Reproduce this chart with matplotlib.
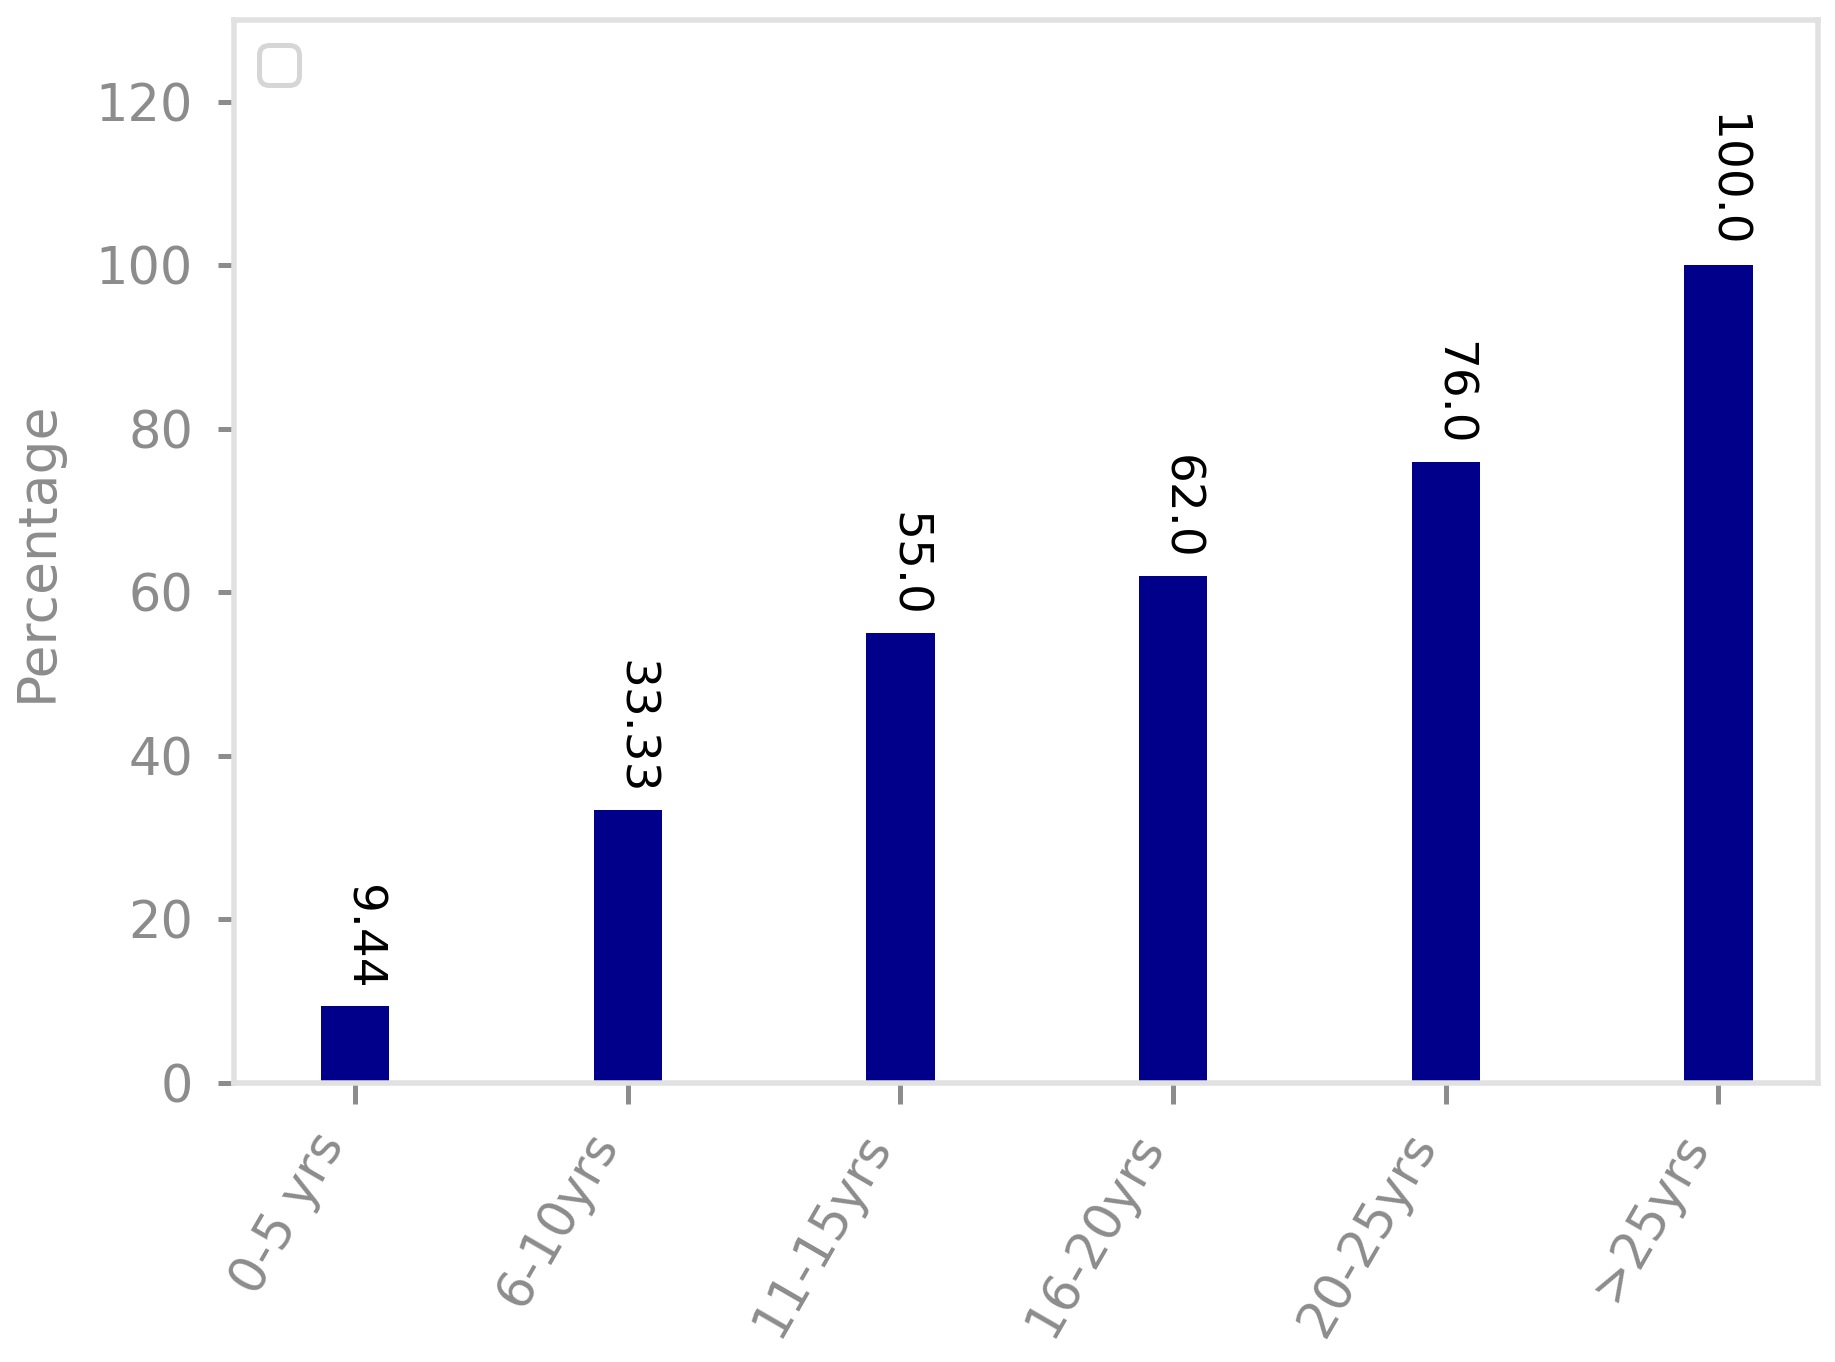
import numpy as np
import matplotlib
matplotlib.use("Agg")
import matplotlib.pyplot as plt

# data
categories = ["0-5 yrs", "6-10yrs", "11-15yrs", "16-20yrs", "20-25yrs", ">25yrs"]
percentages = [9.44, 33.33, 55.0, 62.0, 76.0, 100.0]

spine_col = "#e1e1e1"
tick_col = "#8c8c8c"

fig = plt.figure(figsize=(1836 / 360, 1362 / 360), dpi=360)
ax = fig.add_axes([234 / 1836, 1 - 1083 / 1362, (1818 - 234) / 1836, (1083 - 20) / 1362])

x = np.arange(len(categories))
ax.bar(x, percentages, width=0.25, color="#00008b")

# value labels, rotated, above each bar
for xi, v in zip(x, percentages):
    ax.text(xi + 0.025, v + 2.0, str(v), rotation=270, ha="center", va="bottom",
            fontsize=9.4, color="black")

ax.set_xlim(-0.444, 5.365)
ax.set_ylim(0, 130)
ax.set_yticks([0, 20, 40, 60, 80, 100, 120])
ax.set_xticks(x)
ax.set_xticklabels(categories, rotation=60, ha="right")
ax.set_ylabel("Percentage", fontsize=10.7, color=tick_col, labelpad=6.5)

for s in ax.spines.values():
    s.set_color(spine_col)
    s.set_linewidth(1.1)

ax.tick_params(axis="both", colors=tick_col, labelsize=10.2, width=1.0)
ax.tick_params(axis="y", length=3.2, pad=5)
ax.tick_params(axis="x", length=4.2, pad=4)

# empty legend box, as in the original
ax.legend(handles=[], loc="upper left")

fig.savefig("out.png", dpi=360)
